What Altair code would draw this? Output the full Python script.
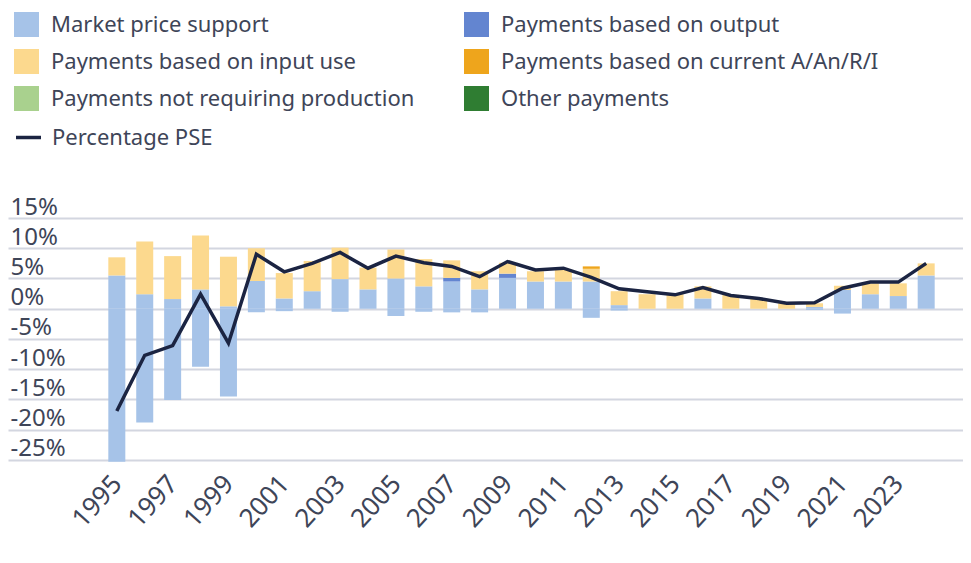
import altair as alt
import pandas as pd

years = [1995, 1996, 1997, 1998, 1999, 2000, 2001, 2002, 2003, 2004,
         2005, 2006, 2007, 2008, 2009, 2010, 2011, 2012, 2013, 2014,
         2015, 2016, 2017, 2018, 2019, 2020, 2021, 2022, 2023, 2024]

# stacking order (bottom to top)
series_names = ["Market price support", "Payments based on output",
                "Payments based on input use", "Payments based on current A/An/R/I",
                "Payments not requiring production", "Other payments"]
series_colors = ["#a6c3e8", "#6385d0", "#fcd98e", "#eea51c", "#a9d18e", "#2f7d32"]
# legend order (Vega fills legend columns top to bottom)
legend_order = [0, 2, 4, 1, 3, 5]

# Market price support: positive and negative parts (% of gross farm receipts)
mps_pos = [5.5, 2.4, 1.6, 3.2, 0.4, 4.6, 1.7, 2.9, 4.9, 3.2,
           5.0, 3.7, 4.5, 3.2, 5.1, 4.5, 4.5, 4.5, 0.6, 0.0,
           0.0, 1.7, 0.0, 0.0, 0.0, 0.3, 3.1, 2.4, 2.1, 5.5]
mps_neg = [-25.3, -18.8, -15.1, -9.6, -14.5, -0.6, -0.4, 0.0, -0.5, 0.0,
           -1.2, -0.5, -0.6, -0.6, 0.0, 0.0, 0.0, -1.5, -0.3, 0.0,
           0.0, 0.0, 0.0, 0.0, 0.0, -0.2, -0.8, 0.0, 0.0, 0.0]
output_pay = [0.0, 0.0, 0.0, 0.0, 0.0, 0.0, 0.0, 0.0, 0.0, 0.0,
              0.0, 0.0, 0.6, 0.0, 0.7, 0.0, 0.0, 0.0, 0.0, 0.0,
              0.0, 0.0, 0.0, 0.0, 0.0, 0.0, 0.0, 0.0, 0.0, 0.0]
input_use = [3.0, 8.7, 7.1, 8.9, 8.2, 5.4, 4.2, 5.0, 5.2, 3.6,
             4.8, 4.5, 2.9, 3.0, 1.8, 1.7, 2.0, 2.1, 2.3, 2.4,
             2.4, 2.0, 2.3, 1.7, 0.9, 0.6, 0.7, 1.8, 2.1, 2.0]
current_aanri = [0.0, 0.0, 0.0, 0.0, 0.0, 0.0, 0.0, 0.0, 0.0, 0.0,
                 0.0, 0.0, 0.0, 0.0, 0.0, 0.0, 0.0, 0.4, 0.0, 0.0,
                 0.0, 0.0, 0.0, 0.0, 0.0, 0.0, 0.0, 0.0, 0.0, 0.0]
not_requiring = [0.0] * 30
other_pay = [0.0] * 30

pse_pct = [-16.9, -7.7, -6.1, 2.4, -5.7, 9.0, 6.1, 7.5, 9.3, 6.7,
           8.7, 7.6, 7.0, 5.3, 7.8, 6.4, 6.7, 5.2, 3.3, 2.8,
           2.3, 3.5, 2.2, 1.7, 0.9, 1.0, 3.4, 4.4, 4.4, 7.5]

x_ticks = [1995, 1997, 1999, 2001, 2003, 2005, 2007, 2009, 2011, 2013,
           2015, 2017, 2019, 2021, 2023]
y_ticks = [-25, -20, -15, -10, -5, 0, 5, 10, 15]

rows = []
columns = [mps_pos, output_pay, input_use, current_aanri, not_requiring, other_pay]
for i, yr in enumerate(years):
    rows.append({"year": yr, "series": series_names[0], "idx": 0, "value": mps_neg[i]})
    for k, col in enumerate(columns):
        rows.append({"year": yr, "series": series_names[k], "idx": k, "value": col[i]})
bars_df = pd.DataFrame(rows)
line_df = pd.DataFrame({"year": years, "pse": pse_pct, "label": "Percentage PSE"})

FONT = "Noto Sans"
TEXT = "#3e4558"

x_enc = alt.X("year:Q",
              scale=alt.Scale(domain=[1991.28, 2025.14], nice=False, zero=False),
              axis=alt.Axis(values=x_ticks, format="d", labelAngle=-48, labelAlign="right",
                            labelBaseline="middle", labelPadding=16, labelOverlap=False,
                            tickCount=40, grid=False, domain=False, ticks=False,
                            labelFontSize=26, labelFont=FONT, labelColor=TEXT, title=None))
y_scale = alt.Scale(domain=[-25.5, 15], nice=False, zero=False)
y_axis = alt.Axis(values=y_ticks, tickCount=40, labelExpr="datum.value + '%'", grid=True,
                  gridColor="#d3d6e0", gridWidth=2, domain=False, ticks=False,
                  tickSize=0, labelAlign="left", labelBaseline="alphabetic",
                  labelPadding=-2, labelOffset=-4, labelFontSize=24, labelFont=FONT,
                  labelColor=TEXT, labelOverlap=False, labelBound=False, title=None)

bars = alt.Chart(bars_df).mark_bar(size=17).encode(
    x=x_enc,
    y=alt.Y("value:Q", stack="zero", scale=y_scale, axis=y_axis),
    color=alt.Color("series:N",
                    scale=alt.Scale(domain=[series_names[j] for j in legend_order],
                                    range=[series_colors[j] for j in legend_order]),
                    legend=alt.Legend(orient="none", legendX=6, legendY=-206, columns=2,
                                      symbolType="square", symbolSize=625,
                                      symbolStrokeWidth=0, labelFontSize=22,
                                      labelFont=FONT, labelColor=TEXT, rowPadding=12,
                                      columnPadding=49, labelOffset=12, labelLimit=0,
                                      title=None)),
    order=alt.Order("idx:Q", sort="ascending"),
)

line = alt.Chart(line_df).mark_line(strokeWidth=3.5).encode(
    x=alt.X("year:Q"),
    y=alt.Y("pse:Q"),
    stroke=alt.Stroke("label:N",
                      scale=alt.Scale(domain=["Percentage PSE"], range=["#1b2442"]),
                      legend=alt.Legend(orient="none", legendX=6, legendY=-95,
                                        symbolType="stroke", symbolSize=625,
                                        symbolStrokeWidth=3.5, labelFontSize=22,
                                        labelFont=FONT, labelColor=TEXT, labelOffset=9,
                                        labelLimit=0, title=None)),
)

chart = alt.layer(bars, line).properties(
    width=955, height=245,
    padding={"left": 0, "top": 4, "right": 0, "bottom": 4},
).configure_view(stroke=None)

chart.save("out.html", embed_options={"renderer": "svg", "actions": False})
